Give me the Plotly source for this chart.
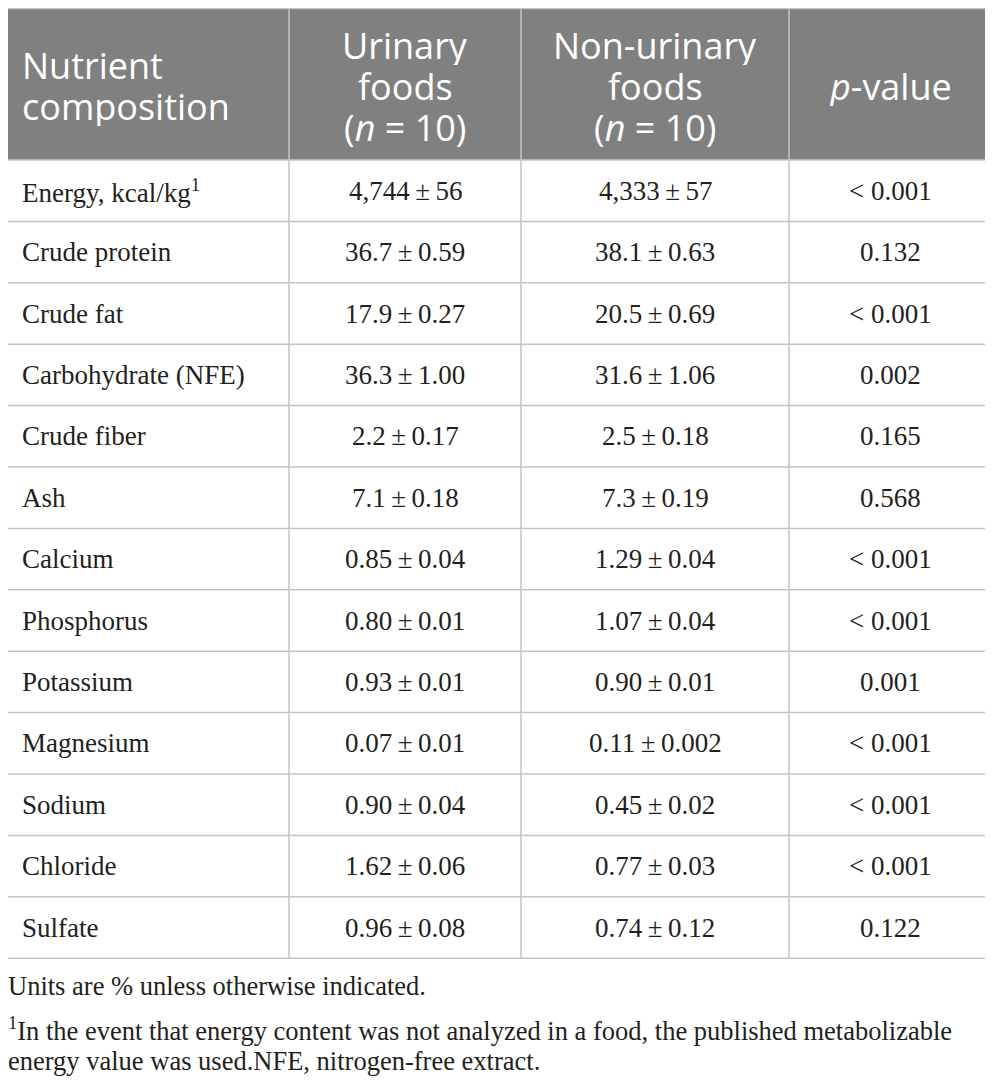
import plotly.graph_objects as go

# Table content
header = [["Nutrient", "composition"],
          ["Urinary", "foods", "(<i>n</i> = 10)"],
          ["Non-urinary", "foods", "(<i>n</i> = 10)"],
          ["<i>p</i>-value"]]
nutrients = ["Energy, kcal/kg<sup>1</sup>", "Crude protein", "Crude fat", "Carbohydrate (NFE)",
             "Crude fiber", "Ash", "Calcium", "Phosphorus", "Potassium", "Magnesium",
             "Sodium", "Chloride", "Sulfate"]
urinary = ["4,744 ± 56", "36.7 ± 0.59", "17.9 ± 0.27", "36.3 ± 1.00", "2.2 ± 0.17",
           "7.1 ± 0.18", "0.85 ± 0.04", "0.80 ± 0.01", "0.93 ± 0.01", "0.07 ± 0.01",
           "0.90 ± 0.04", "1.62 ± 0.06", "0.96 ± 0.08"]
non_urinary = ["4,333 ± 57", "38.1 ± 0.63", "20.5 ± 0.69", "31.6 ± 1.06", "2.5 ± 0.18",
               "7.3 ± 0.19", "1.29 ± 0.04", "1.07 ± 0.04", "0.90 ± 0.01", "0.11 ± 0.002",
               "0.45 ± 0.02", "0.77 ± 0.03", "0.74 ± 0.12"]
p_values = ["< 0.001", "0.132", "< 0.001", "0.002", "0.165", "0.568", "< 0.001",
            "< 0.001", "0.001", "< 0.001", "< 0.001", "< 0.001", "0.122"]
footnotes = ["Units are % unless otherwise indicated.",
             "<sup>1</sup>In the event that energy content was not analyzed in a food, the published metabolizable",
             "energy value was used.NFE, nitrogen-free extract."]

# page has an 8px body margin, so the axes are set up to keep page pixel coords
OFF = 8
W, H = 993 - OFF, 1090 - 2 * OFF
col_edges = [1, 289, 521, 789, 992]
top, head_bottom, row_h = 8.5, 160, 61.4
grid = "#c4c4c4"
text_col = "#231f20"

fig = go.Figure()

# header background
fig.add_shape(type="rect", x0=0, x1=992, y0=top, y1=head_bottom,
              fillcolor="#808080", line=dict(width=0), layer="below")

n = len(nutrients)
bottom = head_bottom + n * row_h

# horizontal lines
fig.add_shape(type="line", x0=0, x1=992, y0=top, y1=top, line=dict(color=grid, width=1.5))
for i in range(n + 1):
    y = head_bottom + i * row_h
    fig.add_shape(type="line", x0=0, x1=992, y0=y, y1=y, line=dict(color=grid, width=1.5))
# vertical lines
for x in col_edges:
    fig.add_shape(type="line", x0=x, x1=x, y0=top, y1=bottom, line=dict(color=grid, width=1.5))

head_font = dict(family="Open Sans", size=36, color="white")
body_font = dict(family="Liberation Serif", size=27, color=text_col)

# header text, one annotation per line
line_gap = 41
hc = 86
for j, lines in enumerate(header):
    y0 = hc - (len(lines) - 1) * line_gap / 2
    for k, ln in enumerate(lines):
        if j == 0:
            xpos, anchor = 20, "left"
        else:
            xpos, anchor = (col_edges[j] + col_edges[j + 1]) / 2, "center"
        fig.add_annotation(x=xpos, y=y0 + k * line_gap, text=ln, xanchor=anchor,
                           yanchor="middle", height=line_gap - 2, showarrow=False,
                           font=head_font)

# body cells
for i in range(n):
    cy = head_bottom + (i + 0.5) * row_h
    fig.add_annotation(x=20, y=cy, text=nutrients[i], xanchor="left", yanchor="middle",
                       showarrow=False, font=body_font)
    for j, col in enumerate([urinary, non_urinary, p_values], start=1):
        cx = (col_edges[j] + col_edges[j + 1]) / 2
        fig.add_annotation(x=cx, y=cy, text=col[i].replace(" ± ", "\u2009±\u2009"),
                           xanchor="center", yanchor="middle", showarrow=False, font=body_font)

# footnotes
for txt, fy in zip(footnotes, [986, 1029, 1061]):
    fig.add_annotation(x=0, xref="paper", y=fy, text=txt, xanchor="left", yanchor="middle",
                       xshift=-2, showarrow=False,
                       font=dict(family="Liberation Serif", size=26.5, color=text_col))

fig.update_layout(
    width=W, height=H,
    margin=dict(l=0, r=0, t=0, b=0),
    plot_bgcolor="white", paper_bgcolor="white",
    xaxis=dict(range=[OFF, OFF + W], visible=False, fixedrange=True),
    yaxis=dict(range=[OFF + H, OFF], visible=False, fixedrange=True),
    showlegend=False,
)

fig.write_html("out.html")
